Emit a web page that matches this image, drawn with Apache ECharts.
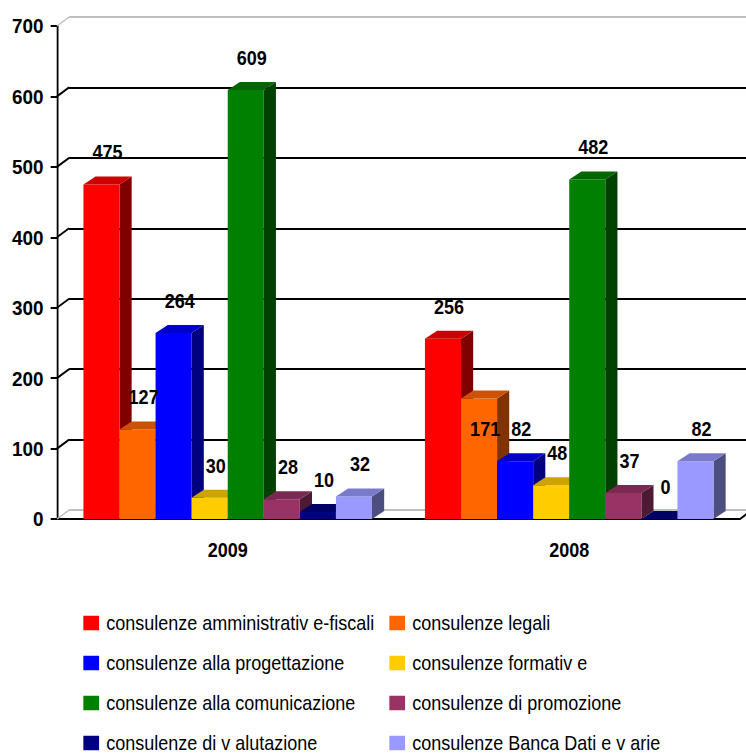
<!DOCTYPE html>
<html>
<head>
<meta charset="utf-8">
<script src="https://cdn.jsdelivr.net/npm/echarts@6/dist/echarts.min.js"></script>
<style>
  html, body { margin: 0; padding: 0; background: #fff; overflow: hidden; }
  #wrap { width: 746px; height: 753px; overflow: hidden; }
  /* the original picture is slightly squeezed sideways; draw wider and squeeze */
  #chart { width: 829px; height: 753px; transform: scaleX(0.9); transform-origin: 0 0; }
</style>
</head>
<body>
<div id="wrap"><div id="chart"></div></div>
<script>
  // values
  const categories = ['2009', '2008'];
  const seriesNames = [
    'consulenze amministrativ e-fiscali',
    'consulenze legali',
    'consulenze alla progettazione',
    'consulenze formativ e',
    'consulenze alla comunicazione',
    'consulenze di promozione',
    'consulenze di v alutazione',
    'consulenze Banca Dati e v arie'
  ];
  const amministrative = [475, 256];
  const legali = [127, 171];
  const progettazione = [264, 82];
  const formative = [30, 48];
  const comunicazione = [609, 482];
  const promozione = [28, 37];
  const valutazione = [10, 0];
  const bancaDati = [32, 82];
  const yTicks = [0, 100, 200, 300, 400, 500, 600, 700];

  const seriesValues = [amministrative, legali, progettazione, formative,
    comunicazione, promozione, valutazione, bancaDati];
  const palette = ['#ff0000', '#ff6600', '#0000ff', '#ffcc00',
    '#008000', '#993366', '#000080', '#9999ff'];

  const FONT = '"Liberation Sans", Arial, Helvetica, sans-serif';
  const DEPTH_X = 13.5;
  const DEPTH_Y = -8;
  const GAP = 0.155;
  // labels that Excel pushed inside the bar to dodge the neighbour
  const labelInside = { '1-1': true };

  function shade(hex, f) {
    const h = hex.replace('#', '');
    const r = Math.round(parseInt(h.substring(0, 2), 16) * f);
    const g = Math.round(parseInt(h.substring(2, 4), 16) * f);
    const b = Math.round(parseInt(h.substring(4, 6), 16) * f);
    return `rgb(${r},${g},${b})`;
  }

  function makeBarRenderer(idx, color) {
    return function (params, api) {
      const cat = api.value(0);
      const val = api.value(1);
      const base = api.coord([cat, 0]);
      const top = api.coord([cat, val]);
      const band = api.size([1, 0])[0];
      const bw = band * (1 - GAP) / seriesValues.length;
      const x0 = base[0] - band * (1 - GAP) / 2 + idx * bw;
      const x1 = x0 + bw;
      const yt = top[1];
      const yb = base[1];
      const inside = labelInside[idx + '-' + params.dataIndex];
      return {
        type: 'group',
        children: [
          {
            type: 'polygon',
            shape: { points: [[x1, yt], [x1 + DEPTH_X, yt + DEPTH_Y], [x1 + DEPTH_X, yb + DEPTH_Y], [x1, yb]] },
            style: { fill: shade(color, 0.5) }
          },
          {
            type: 'rect',
            shape: { x: x0, y: yt, width: bw, height: yb - yt },
            style: { fill: color }
          },
          {
            type: 'polygon',
            shape: { points: [[x0, yt], [x0 + DEPTH_X, yt + DEPTH_Y], [x1 + DEPTH_X, yt + DEPTH_Y], [x1, yt]] },
            style: { fill: shade(color, 0.8) }
          },
          {
            type: 'text',
            z2: 10,
            x: x0 + bw / 2 + DEPTH_X / 2,
            y: inside ? yt + 31 : yt - 32,
            style: {
              text: String(val),
              align: 'center',
              verticalAlign: 'middle',
              fill: '#000',
              fontFamily: FONT,
              fontWeight: 'bold',
              fontSize: 20
            }
          }
        ]
      };
    };
  }

  const barSeries = seriesNames.map(function (name, i) {
    return {
      name: name,
      type: 'custom',
      xAxisIndex: 1,
      yAxisIndex: 1,
      z: 3,
      itemStyle: { color: palette[i] },
      renderItem: makeBarRenderer(i, palette[i]),
      encode: { x: 0, y: 1 },
      data: categories.map(function (c, k) { return [k, seriesValues[i][k]]; })
    };
  });

  // slanted connectors between the front axis and the back wall
  const wallSeries = {
    type: 'custom',
    xAxisIndex: 1,
    yAxisIndex: 1,
    z: 1,
    silent: true,
    renderItem: function (params, api) {
      const v = api.value(1);
      const y = api.coord([0, v])[1];
      const cs = params.coordSys;
      const edge = (v === 0 || v === yTicks[yTicks.length - 1]);
      const children = [{
        type: 'line',
        shape: { x1: cs.x, y1: y, x2: cs.x + DEPTH_X, y2: y - 9 },
        style: { stroke: edge ? '#b8b8b8' : '#000', lineWidth: edge ? 1.5 : 2 }
      }];
      if (v === 0) {
        children.push({
          type: 'line',
          shape: { x1: cs.x + cs.width, y1: y, x2: cs.x + cs.width + DEPTH_X, y2: y - 9 },
          style: { stroke: '#000', lineWidth: 2 }
        });
      }
      return { type: 'group', children: children };
    },
    encode: { x: 0, y: 1 },
    data: yTicks.map(function (t) { return [0, t]; })
  };

  function legendFor(items, left) {
    return {
      orient: 'vertical',
      left: left,
      top: 613,
      height: 170,
      padding: 0,
      itemWidth: 17.5,
      itemHeight: 14.5,
      itemGap: 20,
      icon: 'rect',
      selectedMode: false,
      textStyle: { fontFamily: FONT, fontSize: 20, color: '#000', padding: [0, 0, 0, 3] },
      data: items
    };
  }

  const chart = echarts.init(document.getElementById('chart'), null, { renderer: 'svg' });
  chart.setOption({
    backgroundColor: '#fff',
    animation: false,
    grid: [
      { left: 76.7, right: -6.5, top: 17, bottom: 243 },
      { left: 63.3, right: 6.8, top: 26, bottom: 234 }
    ],
    xAxis: [
      { gridIndex: 0, type: 'category', data: categories, show: false },
      {
        gridIndex: 1,
        type: 'category',
        data: categories,
        axisLine: { lineStyle: { color: '#000', width: 2 } },
        axisTick: { length: 8, lineStyle: { color: '#000', width: 2 } },
        axisLabel: { margin: 21, color: '#000', fontFamily: FONT, fontWeight: 'bold', fontSize: 20 }
      }
    ],
    yAxis: [
      {
        gridIndex: 0,
        type: 'value',
        min: 0,
        max: 700,
        interval: 100,
        axisLine: { show: false },
        axisTick: { show: false },
        axisLabel: { show: false },
        splitLine: {
          lineStyle: {
            width: 2,
            color: ['#c0c0c0', '#000', '#000', '#000', '#000', '#000', '#000', '#c0c0c0']
          }
        }
      },
      {
        gridIndex: 1,
        type: 'value',
        min: 0,
        max: 700,
        interval: 100,
        axisLine: { show: true, lineStyle: { color: '#000', width: 2 } },
        axisTick: { show: true, length: 7, lineStyle: { color: '#000', width: 2 } },
        axisLabel: { margin: 15, color: '#000', fontFamily: FONT, fontWeight: 'bold', fontSize: 21 },
        splitLine: { show: false }
      }
    ],
    legend: [
      legendFor(seriesNames.filter(function (n, i) { return i % 2 === 0; }), 92.6),
      legendFor(seriesNames.filter(function (n, i) { return i % 2 === 1; }), 432.6)
    ],
    series: [wallSeries].concat(barSeries)
  });
</script>
</body>
</html>
